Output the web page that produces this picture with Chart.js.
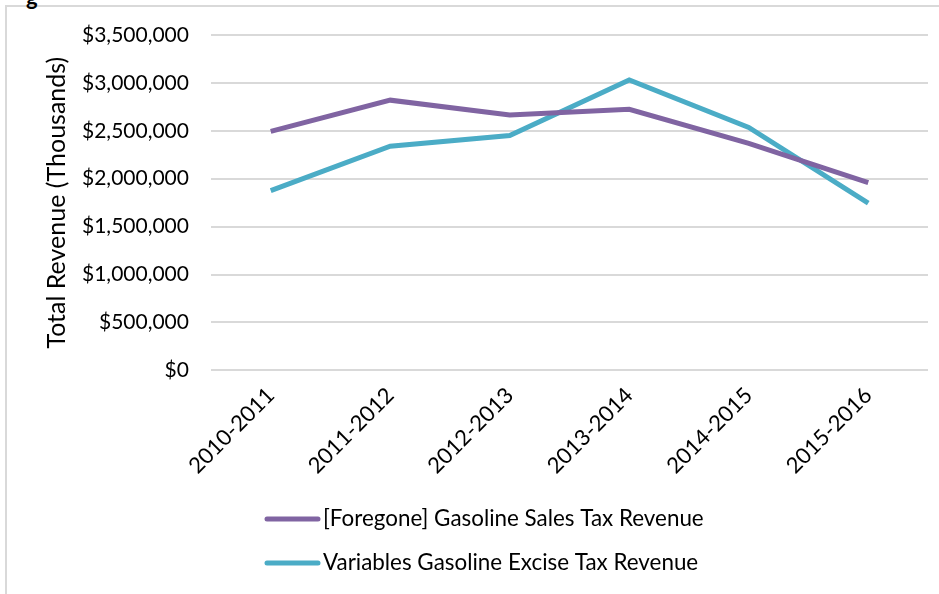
<!DOCTYPE html>
<html>
<head>
<meta charset="utf-8">
<script src="https://cdn.jsdelivr.net/npm/chart.js@4.4.1/dist/chart.umd.min.js"></script>
<style>
    html, body { margin: 0; padding: 0; background: #ffffff; }
    #wrap { position: relative; width: 939px; height: 594px; overflow: hidden; }
    #frame {
        position: absolute; left: 5px; top: 5px; right: 0; bottom: 0;
        border-left: 2px solid #d9d9d9; border-top: 2px solid #d9d9d9;
    }
    #cut {
        position: absolute; left: 26px; top: -17px;
        font: bold 22px Lato, sans-serif; color: #000;
    }
    canvas { position: absolute; left: 0; top: 0; }
</style>
</head>
<body>
<div id="wrap">
    <div id="frame"></div>
    <div id="cut">g</div>
    <canvas id="revenueChart" width="939" height="594"></canvas>
</div>
<script>
// chart data
const years = ['2010-2011', '2011-2012', '2012-2013', '2013-2014', '2014-2015', '2015-2016'];
const salesTax = [2495000, 2820000, 2665000, 2725000, 2370000, 1960000];
const exciseTax = [1875000, 2340000, 2450000, 3030000, 2535000, 1745000];
const seriesNames = ['[Foregone] Gasoline Sales Tax Revenue', 'Variables Gasoline Excise Tax Revenue'];
const seriesColors = ['#8064a2', '#4bacc6'];

const FONT = 'Lato, "Open Sans", sans-serif';

// legend drawn in two left-aligned rows, like the original
const stackedLegend = {
    id: 'stackedLegend',
    afterDraw(chart) {
        const ctx = chart.ctx;
        ctx.save();
        ctx.font = '22.4px ' + FONT;
        ctx.textBaseline = 'middle';
        ctx.lineCap = 'round';
        chart.data.datasets.forEach((ds, i) => {
            const y = 519 + i * 44;
            ctx.strokeStyle = ds.borderColor;
            ctx.lineWidth = 5;
            ctx.beginPath();
            ctx.moveTo(267, y);
            ctx.lineTo(318, y);
            ctx.stroke();
            ctx.fillStyle = '#000000';
            ctx.fillText(ds.label, 323, y);
        });
        ctx.restore();
    }
};

new Chart(document.getElementById('revenueChart'), {
    type: 'line',
    data: {
        labels: years,
        datasets: [
            {
                label: seriesNames[0],
                data: salesTax,
                borderColor: seriesColors[0],
                backgroundColor: seriesColors[0],
                borderWidth: 5,
                pointRadius: 0,
                tension: 0
            },
            {
                label: seriesNames[1],
                data: exciseTax,
                borderColor: seriesColors[1],
                backgroundColor: seriesColors[1],
                borderWidth: 5,
                pointRadius: 0,
                tension: 0
            }
        ]
    },
    options: {
        responsive: false,
        animation: false,
        layout: { padding: { left: 40, right: 11, top: 35, bottom: 111 } },
        plugins: {
            legend: { display: false },
            tooltip: { enabled: false }
        },
        scales: {
            x: {
                offset: true,
                grid: { display: false },
                border: { display: false },
                ticks: {
                    color: '#000000',
                    font: { family: FONT, size: 22 },
                    minRotation: 45,
                    maxRotation: 45,
                    padding: 4
                }
            },
            y: {
                min: 0,
                max: 3500000,
                grid: { color: '#d9d9d9', lineWidth: 2, drawTicks: false },
                border: { display: false },
                ticks: {
                    stepSize: 500000,
                    color: '#000000',
                    padding: 22,
                    font: { family: FONT, size: 21 },
                    callback: v => '$' + v.toLocaleString('en-US')
                },
                title: {
                    display: true,
                    text: 'Total Revenue (Thousands)',
                    color: '#000000',
                    font: { family: FONT, size: 25 },
                    padding: { top: 2, bottom: -12 }
                }
            }
        }
    },
    plugins: [stackedLegend]
});
</script>
</body>
</html>
